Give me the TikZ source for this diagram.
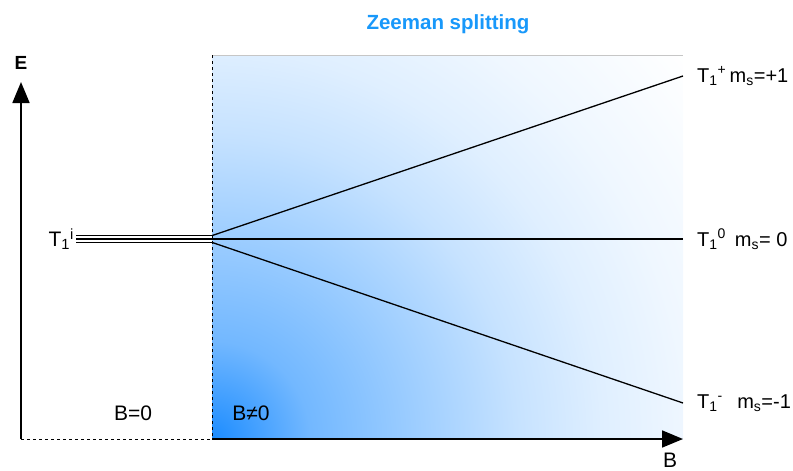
\documentclass[tikz,border=0pt]{standalone}
\usepackage{fontspec}
\setmainfont{Liberation Sans}
\usetikzlibrary{arrows.meta,positioning}
\definecolor{zeemanblue}{RGB}{24,152,250}
\definecolor{glowblue}{RGB}{28,140,255}
\pgfdeclareradialshading{glow}{\pgfpoint{0bp}{0bp}}{%
  color(0bp)=(glowblue); color(4bp)=(glowblue!62!white);
  color(12.5bp)=(glowblue!25!white); color(16bp)=(glowblue!14!white);
  color(19.5bp)=(glowblue!7!white); color(25bp)=(white); color(50bp)=(white)}

\begin{document}
\begin{tikzpicture}[x=1pt,y=-1pt,
  ax/.style={line width=1.8pt,-{Triangle[length=21pt,width=17pt]}},
  lvl/.style={line width=1.3pt},
  fine/.style={line width=0.9pt},
  lab/.style={font=\fontsize{20}{24}\selectfont,inner sep=0pt},
  hd/.style={font=\fontsize{20.5}{24}\selectfont\bfseries,inner sep=0pt}]
  \useasboundingbox (0,0) rectangle (793,471);
  \coordinate (o) at (21,439);      \coordinate (etip) at (21,82);
  \coordinate (b0) at (212,439);    \coordinate (btip) at (683,439);
  \coordinate (top) at (212,55);    \coordinate (topr) at (683,55);
  \coordinate (split) at (212,239); \coordinate (tstart) at (76,239);
  \coordinate (eplus) at (683,76);  \coordinate (ezero) at (683,239);
  \coordinate (eminus) at (683,403);
  % field region
  \begin{scope}
    \clip (top) rectangle (btip);
    \shade[shading=glow] (-398,-171) rectangle (822,1049);
  \end{scope}
  \draw[gray!45,line width=1pt] (top) -- (topr);
  \draw[fine,dashed] (top) -- (b0);
  \draw[fine,dashed] (o) -- (b0);
  % levels
  \foreach \dy in {-3.4,0,3.4}
    \draw[lvl] ([yshift=\dy pt]tstart) -- ([yshift=\dy pt]split);
  \draw[lvl] ([yshift=3.4pt]split) -- (eplus);
  \draw[lvl] (split) -- (ezero);
  \draw[lvl] ([yshift=-3.4pt]split) -- (eminus);
  % axes
  \draw[ax] (o) -- (etip);
  \draw[ax] (b0) -- (btip);
  \node[hd,font=\fontsize{19}{22}\selectfont\bfseries] (elab) at (21,63) {E};
  \node[lab,font=\fontsize{21}{24}\selectfont] (blab) at (670,460) {B};
  \node[hd,text=zeemanblue] (title) at (448,24) {Zeeman splitting};
  \node[lab,font=\fontsize{21}{24}\selectfont,left=2pt] (li) at (tstart) {T\textsubscript{1}\textsuperscript{i}};
  \node[lab,right=14pt] (lplus) at (eplus) {T\textsubscript{1}\textsuperscript{+}\,m\textsubscript{s}=+1};
  \node[lab,right=14pt] (lzero) at (ezero) {T\textsubscript{1}\textsuperscript{0}\, m\textsubscript{s}= 0};
  \node[lab,right=14pt] (lminus) at (eminus) {T\textsubscript{1}\textsuperscript{-}\ \, m\textsubscript{s}=-1};
  \node[lab,font=\fontsize{21}{24}\selectfont] (bzero) at (133,413) {B=0};
  \node[lab,font=\fontsize{21}{24}\selectfont] (bnon) at (251,413) {B≠0};
\end{tikzpicture}
\end{document}
